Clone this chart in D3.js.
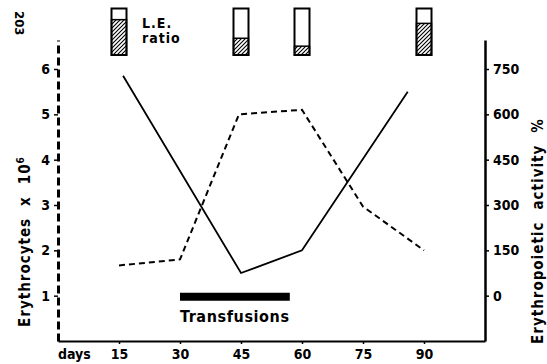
<!DOCTYPE html>
<html>
<head>
<meta charset="utf-8">
<script src="https://cdn.jsdelivr.net/npm/d3@7/dist/d3.min.js"></script>
<style>
  body { margin: 0; background: #fff; }
  svg { font-family: "DejaVu Sans Condensed", "DejaVu Sans", sans-serif; font-weight: bold; }
</style>
</head>
<body>
<div id="chart"></div>
<script>
// erythrocytes (x 10^6), solid line
const erythDays = [16, 45, 60, 86];
const erythValues = [5.85, 1.5, 2.0, 5.5];
// erythropoietic activity %, dashed line
const activityDays = [15, 30, 44.5, 60, 75, 90];
const activityValues = [100, 120, 600, 615, 295, 150];
// L.E. ratio boxes at the top
const leDays = [15, 45, 60, 90];
const leRatio = [0.76, 0.36, 0.19, 0.68];
// transfusion period (days)
const transfusion = [30, 57];

const dayTicks = [15, 30, 45, 60, 75, 90];
const leftTicks = [1, 2, 3, 4, 5, 6];
const rightTicks = [0, 150, 300, 450, 600, 750];

const width = 547, height = 364;

const svg = d3.select('#chart').append('svg')
    .attr('width', width)
    .attr('height', height);

const x = d3.scaleLinear().domain([0, 105]).range([58, 485]);
const yL = d3.scaleLinear().domain([0, 6.64]).range([341, 40]);
const yR = d3.scaleLinear().domain([-150, 846]).range([341, 40]);
const leY = d3.scaleLinear().domain([0, 1]).range([55, 8.5]);

// hatch pattern for the L.E. boxes
svg.append('defs').append('pattern')
    .attr('id', 'hatch')
    .attr('patternUnits', 'userSpaceOnUse')
    .attr('width', 4).attr('height', 4)
  .append('path')
    .attr('d', 'M-1,1 l2,-2 M0,4 l4,-4 M3,5 l2,-2')
    .attr('stroke', '#000')
    .attr('stroke-width', 1.1);

// bottom axis
const xAxis = svg.append('g')
    .attr('transform', 'translate(0,341)')
    .call(d3.axisBottom(x).tickValues(dayTicks).tickSize(3).tickPadding(5).tickSizeOuter(0));
xAxis.select('.domain').attr('stroke-width', 2.2);

// left axis (dashed)
const yAxisL = svg.append('g')
    .attr('transform', 'translate(58,0)')
    .call(d3.axisLeft(yL).tickValues(leftTicks).tickFormat(d3.format('d'))
      .tickSize(4).tickPadding(4).tickSizeOuter(0));
yAxisL.select('.domain')
    .attr('stroke-width', 3)
    .attr('stroke-dasharray', '8,4');

// right axis
const yAxisR = svg.append('g')
    .attr('transform', 'translate(485,0)')
    .call(d3.axisRight(yR).tickValues(rightTicks).tickSize(4).tickPadding(4).tickSizeOuter(0));
yAxisR.select('.domain').attr('stroke-width', 2.5);

svg.selectAll('.tick text')
    .attr('font-family', '"DejaVu Sans Condensed", "DejaVu Sans", sans-serif')
    .attr('font-size', 14)
    .attr('font-weight', 'bold')
    .attr('fill', '#000');
svg.selectAll('.tick line').attr('stroke-width', 1.5);

svg.append('text')
    .attr('x', 58).attr('y', 359)
    .attr('font-size', 14)
    .text('days');

// axis titles
const tl = svg.append('text')
    .attr('transform', 'translate(30,327) rotate(-90)')
    .attr('font-size', 15)
    .attr('letter-spacing', 1);
tl.append('tspan').text('Erythrocytes');
tl.append('tspan').attr('dx', 12).text('x');
tl.append('tspan').attr('dx', 12).text('10');
tl.append('tspan').attr('dy', -6).attr('font-size', 10).text('6');

const tr = svg.append('text')
    .attr('transform', 'translate(543,344) rotate(-90)')
    .attr('font-size', 15)
    .attr('letter-spacing', 1);
tr.append('tspan').text('Erythropoietic');
tr.append('tspan').attr('dx', 12).text('activity');
tr.append('tspan').attr('dx', 12).text('%');

svg.append('text')
    .attr('transform', 'translate(15,11) rotate(90)')
    .attr('font-size', 13)
    .text('203');

// lines
const solid = d3.line().x(d => x(d[0])).y(d => yL(d[1]));
svg.append('path')
    .datum(d3.zip(erythDays, erythValues))
    .attr('d', solid)
    .attr('fill', 'none')
    .attr('stroke', '#000')
    .attr('stroke-width', 1.8);

const dashed = d3.line().x(d => x(d[0])).y(d => yR(d[1]));
svg.append('path')
    .datum(d3.zip(activityDays, activityValues))
    .attr('d', dashed)
    .attr('fill', 'none')
    .attr('stroke', '#000')
    .attr('stroke-width', 2)
    .attr('stroke-dasharray', '6,4');

// transfusions bar
svg.append('line')
    .attr('x1', x(transfusion[0])).attr('x2', x(transfusion[1]))
    .attr('y1', yR(0) + 1).attr('y2', yR(0) + 1)
    .attr('stroke', '#000')
    .attr('stroke-width', 8);
svg.append('text')
    .attr('x', x(transfusion[0])).attr('y', 322)
    .attr('font-size', 16)
    .attr('letter-spacing', 0.6)
    .text('Transfusions');

// L.E. ratio boxes
const boxW = 15;
const boxes = svg.selectAll('.le').data(d3.zip(leDays, leRatio)).enter().append('g');
boxes.append('rect')
    .attr('x', d => x(d[0]) - boxW / 2)
    .attr('y', d => leY(d[1]))
    .attr('width', boxW)
    .attr('height', d => leY(0) - leY(d[1]))
    .attr('fill', 'url(#hatch)')
    .attr('stroke', '#000')
    .attr('stroke-width', 1.5);
boxes.append('rect')
    .attr('x', d => x(d[0]) - boxW / 2)
    .attr('y', leY(1))
    .attr('width', boxW)
    .attr('height', leY(0) - leY(1))
    .attr('fill', 'none')
    .attr('stroke', '#000')
    .attr('stroke-width', 2);

svg.append('text')
    .attr('x', 142).attr('y', 28)
    .attr('font-size', 14)
    .attr('letter-spacing', 1)
    .text('L.E.');
svg.append('text')
    .attr('x', 142).attr('y', 43)
    .attr('font-size', 14)
    .attr('letter-spacing', 1)
    .text('ratio');
</script>
</body>
</html>
